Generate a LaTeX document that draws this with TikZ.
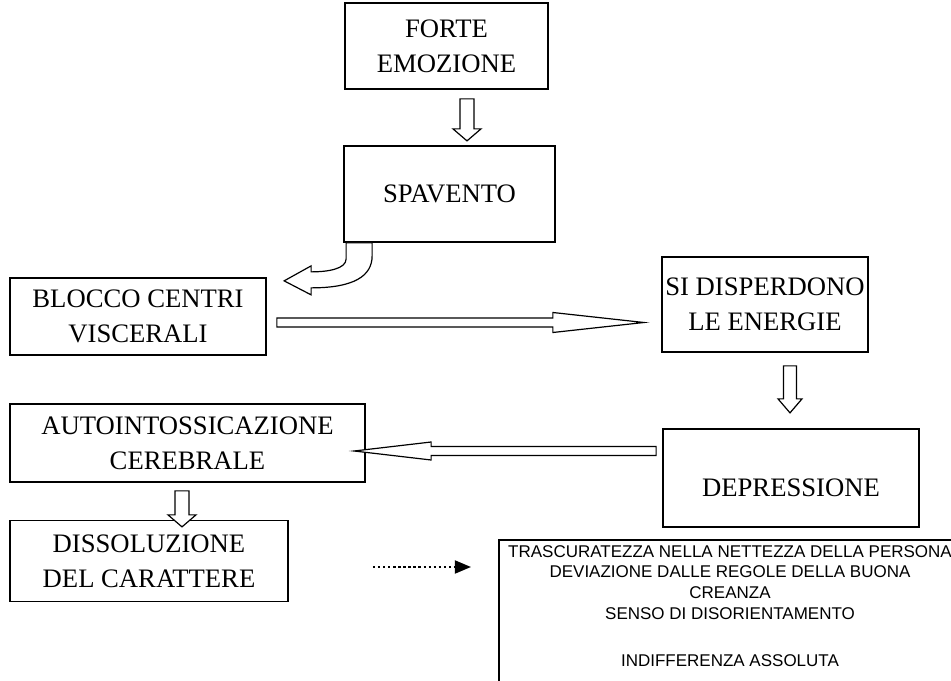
\documentclass[tikz,border=0pt]{standalone}
\usepackage{fontspec}
\setmainfont{Liberation Serif}
\setsansfont{Liberation Sans}
\usetikzlibrary{arrows}
\usetikzlibrary{calc}

\tikzset{
  casella/.style={draw, line width=1.3pt, align=center, inner sep=0pt,
    font=\fontsize{20}{26.25}\selectfont},
  freccia/.style={draw, line width=0.9pt, fill=white, line join=miter},
}

% block arrow: start, angle, length, half shaft, half head, head length
\newcommand{\frecciona}[6]{%
  \draw[freccia, shift={(#1)}, rotate=#2]
    (0,-#4) -- (#3-#6,-#4) -- (#3-#6,-#5) -- (#3,0)
    -- (#3-#6,#5) -- (#3-#6,#4) -- (0,#4) -- cycle;
}

\begin{document}
\begin{tikzpicture}[x=0.75pt,y=-0.75pt]
    \useasboundingbox (0,0) rectangle (951,681);
    \node[casella, minimum width=152.25pt, minimum height=64.5pt]
      (forte) at (446.5,46) {FORTE\\EMOZIONE};
    \node[casella, minimum width=158.25pt, minimum height=72pt]
      (spavento) at (449.5,194) {SPAVENTO};
    \node[casella, minimum width=192pt, minimum height=57.75pt]
      (blocco) at (138,316.5) {BLOCCO CENTRI\\VISCERALI};
    \node[casella, minimum width=154pt, minimum height=71.25pt]
      (energie) at (765,304.5) {SI DISPERDONO\\LE ENERGIE};
    \node[casella, minimum width=266pt, minimum height=58.5pt]
      (autointox) at (187.5,443) {AUTOINTOSSICAZIONE\\CEREBRALE};
    \node[casella, minimum width=192pt, minimum height=73.5pt]
      (depressione) at (791,478) {\raisebox{-13.5pt}[0pt][0pt]{DEPRESSIONE}};
    \node[casella, minimum width=208.5pt, minimum height=60.75pt]
      (dissoluzione) at (149,561) {DISSOLUZIONE\\DEL CARATTERE};

    % riquadro tagliato dal bordo
    \draw[line width=1.3pt] (499,681) |- (951,540);
    \node[align=center, inner sep=0pt,
      font=\sffamily\fontsize{12.75}{15.4}\selectfont]
      (effetti) at (730,606) {TRASCURATEZZA NELLA NETTEZZA DELLA PERSONA\\
      DEVIAZIONE DALLE REGOLE DELLA BUONA\\CREANZA\\
      SENSO DI DISORIENTAMENTO\\[20pt]INDIFFERENZA ASSOLUTA};

    % frecce
    \coordinate (f1) at ($(forte.south)+(20.5,9)$);
    \frecciona{f1}{-90}{42}{7}{14}{12}
    \coordinate (f2) at ($(blocco.east)+(10,6)$);
    \frecciona{f2}{0}{367}{4.5}{10}{91}
    \coordinate (f3) at ($(energie.south)+(25,13)$);
    \frecciona{f3}{-90}{47}{6.5}{12}{14}
    \coordinate (f4) at ($(depressione.west)+(-6,-27)$);
    \frecciona{f4}{180}{302}{4.5}{9}{77}
    \coordinate (f5) at ($(autointox.south)+(-5.5,8)$);
    \frecciona{f5}{-90}{36}{7}{14}{12}

    % freccia curva
    \coordinate (c1) at ($(spavento.south west)+(3,0)$);
    \draw[freccia] (c1) -- ++(0,16)
      .. controls +(0,10) and +(17,0) .. ++(-35,13)
      -- ++(0,-6) -- ++(-27,15) -- ++(27,14) -- ++(0,-7)
      .. controls +(43,0) and +(0,20) .. ++(61,-32)
      -- ++(0,-13) -- cycle;

    % freccia tratteggiata
    \coordinate (p1) at ($(dissoluzione.east)+(84,6)$);
    \coordinate (p2) at ($(p1)+(98,0)$);
    \draw[line width=1.8pt, dotted, -triangle 45] (p1) -- (p2);
\end{tikzpicture}
\end{document}
